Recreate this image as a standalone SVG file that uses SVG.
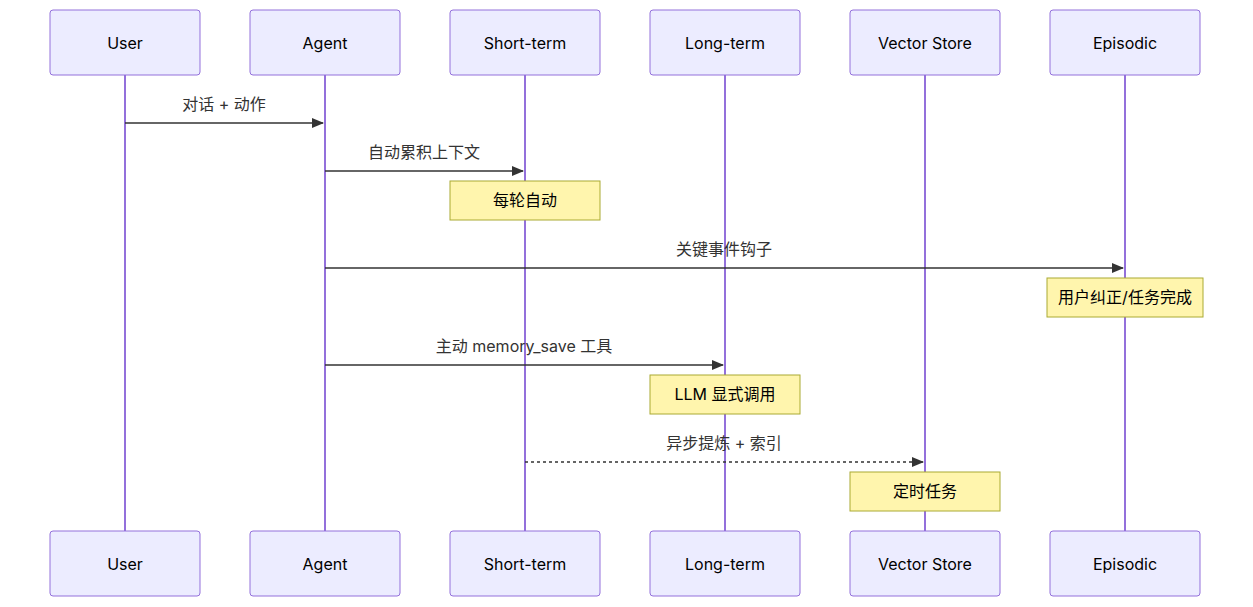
<svg xmlns="http://www.w3.org/2000/svg" width="1253" height="607" viewBox="0 0 1253 607">
<defs>
<style>
.actor{fill:#ECECFF;stroke:#9370DB;stroke-width:1}
.life{stroke:#9370DB;stroke-width:2}
.note{fill:#FFF5AD;stroke:#AAAA33;stroke-width:1}
text{font-family:Inter,"Noto Sans","Noto Sans CJK SC",sans-serif;font-size:16px;fill:#333;text-anchor:middle;dominant-baseline:central}
.at{fill:#000}
.nt{fill:#000}
.msg{stroke:#333;stroke-width:1.5;fill:none}
.dot{stroke-dasharray:3 3}
</style>
<marker id="arr" viewBox="0 0 12 12" refX="11" refY="6" markerWidth="12" markerHeight="12" orient="auto" markerUnits="userSpaceOnUse"><path d="M0,1 L12,6 L0,11 z" fill="#333"/></marker>
</defs>
<rect width="1253" height="607" fill="#fff"/>
<g id="lifelines">
<line class="life" x1="125" y1="75" x2="125" y2="531"/>
<line class="life" x1="325" y1="75" x2="325" y2="531"/>
<line class="life" x1="525" y1="75" x2="525" y2="531"/>
<line class="life" x1="725" y1="75" x2="725" y2="531"/>
<line class="life" x1="925" y1="75" x2="925" y2="531"/>
<line class="life" x1="1125" y1="75" x2="1125" y2="531"/>
</g>
<g id="user"><rect class="actor" x="50" y="10" width="150" height="65" rx="3"/><text class="at" x="125" y="43">User</text><rect class="actor" x="50" y="531" width="150" height="65" rx="3"/><text class="at" x="125" y="564">User</text></g>
<g id="agent"><rect class="actor" x="250" y="10" width="150" height="65" rx="3"/><text class="at" x="325" y="43">Agent</text><rect class="actor" x="250" y="531" width="150" height="65" rx="3"/><text class="at" x="325" y="564">Agent</text></g>
<g id="shortterm"><rect class="actor" x="450" y="10" width="150" height="65" rx="3"/><text class="at" x="525" y="43">Short-term</text><rect class="actor" x="450" y="531" width="150" height="65" rx="3"/><text class="at" x="525" y="564">Short-term</text></g>
<g id="longterm"><rect class="actor" x="650" y="10" width="150" height="65" rx="3"/><text class="at" x="725" y="43">Long-term</text><rect class="actor" x="650" y="531" width="150" height="65" rx="3"/><text class="at" x="725" y="564">Long-term</text></g>
<g id="vector"><rect class="actor" x="850" y="10" width="150" height="65" rx="3"/><text class="at" x="925" y="43">Vector Store</text><rect class="actor" x="850" y="531" width="150" height="65" rx="3"/><text class="at" x="925" y="564">Vector Store</text></g>
<g id="episodic"><rect class="actor" x="1050" y="10" width="150" height="65" rx="3"/><text class="at" x="1125" y="43">Episodic</text><rect class="actor" x="1050" y="531" width="150" height="65" rx="3"/><text class="at" x="1125" y="564">Episodic</text></g>
<g id="connectors">
<line class="msg" x1="125" y1="123" x2="323" y2="123" marker-end="url(#arr)"/><text x="224" y="104">对话 + 动作</text>
<line class="msg" x1="325" y1="171" x2="523" y2="171" marker-end="url(#arr)"/><text x="424" y="152">自动累积上下文</text>
<line class="msg" x1="325" y1="268" x2="1123" y2="268" marker-end="url(#arr)"/><text x="724" y="249">关键事件钩子</text>
<line class="msg" x1="325" y1="365" x2="723" y2="365" marker-end="url(#arr)"/><text x="524" y="346">主动 memory_save 工具</text>
<line class="msg dot" x1="525" y1="462" x2="923" y2="462" marker-end="url(#arr)"/><text x="724" y="443">异步提炼 + 索引</text>
</g>
<g id="note1"><rect class="note" x="450" y="181" width="150" height="39"/><text class="nt" x="525" y="200">每轮自动</text></g>
<g id="note2"><rect class="note" x="1047" y="278" width="156" height="39"/><text class="nt" x="1125" y="297">用户纠正/任务完成</text></g>
<g id="note3"><rect class="note" x="650" y="375" width="150" height="39"/><text class="nt" x="725" y="394">LLM 显式调用</text></g>
<g id="note4"><rect class="note" x="850" y="472" width="150" height="39"/><text class="nt" x="925" y="491">定时任务</text></g>
</svg>
